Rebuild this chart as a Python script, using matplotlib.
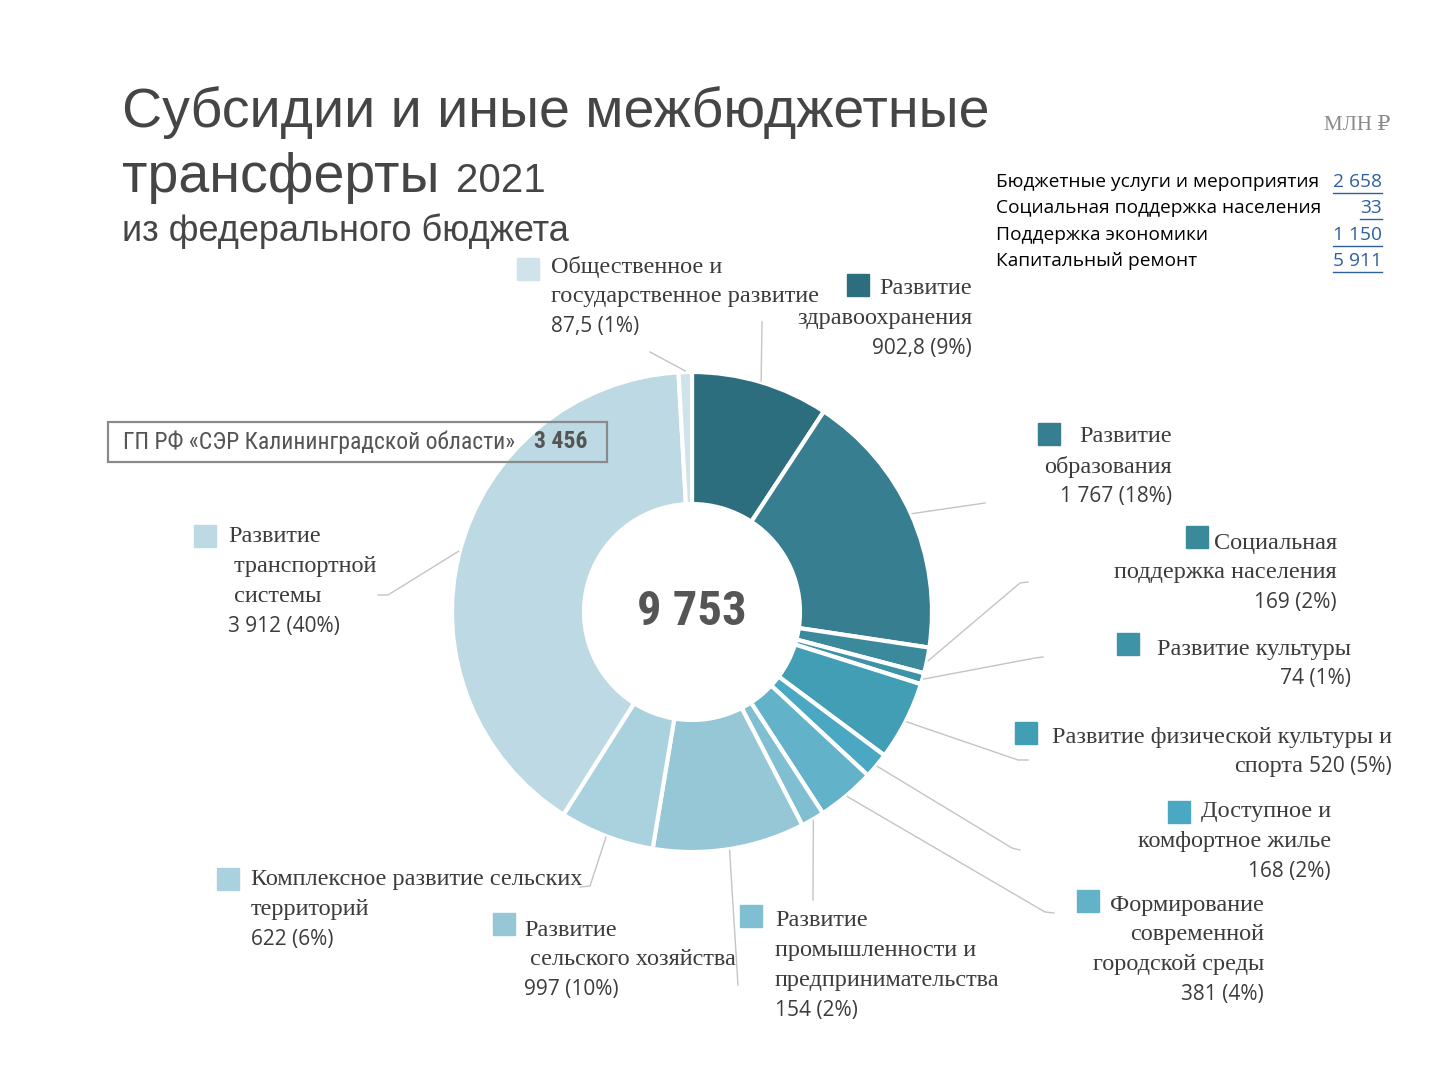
import numpy as np
import matplotlib.pyplot as plt
from matplotlib.patches import Rectangle

# --- data (млн руб.) ---
categories = [
    "Развитие\nздравоохранения",
    "Развитие\nобразования",
    "Социальная\nподдержка населения",
    "Развитие культуры",
    "Развитие физической культуры и\nспорта",
    "Доступное и\nкомфортное жилье",
    "Формирование\nсовременной\nгородской среды",
    "Развитие\nпромышленности и\nпредпринимательства",
    "Развитие\n сельского хозяйства",
    "Комплексное развитие сельских\nтерриторий",
    "Развитие\n транспортной\n системы",
    "Общественное и\nгосударственное развитие",
]
values = [902.8, 1767, 169, 74, 520, 168, 381, 154, 997, 622, 3912, 87.5]
pcts = [9, 18, 2, 1, 5, 2, 4, 2, 10, 6, 40, 1]
colors = ["#2d6e7e", "#367e90", "#3a8a9c", "#3e93a7", "#429eb5", "#4aa8c2",
          "#62b3ca", "#80bfd2", "#96c7d7", "#a9d1de", "#bdd9e3", "#cfe3ea"]
total_label = "9 753"

side_names = ["Бюджетные услуги и мероприятия", "Социальная поддержка населения",
              "Поддержка экономики", "Капитальный ремонт"]
side_values = [2658, 33, 1150, 5911]

gp_label = "ГП РФ «СЭР Калининградской области»"
gp_value = 3456


def fmt(v):
    if float(v).is_integer():
        s = f"{int(v):,}".replace(",", " ")
    else:
        s = f"{v:,.1f}".replace(",", " ").replace(".", ",")
    return s


SERIF = ["Liberation Serif", "DejaVu Serif"]
SANS = ["Open Sans", "DejaVu Sans"]
TITLE = ["Liberation Sans", "DejaVu Sans"]
COND = ["Roboto Condensed", "Roboto", "DejaVu Sans"]
TXT = "#3c3c3c"

fig = plt.figure(figsize=(14.4, 10.8), dpi=100)
ax = fig.add_axes([0, 0, 1, 1])

cx, cy, R = 692, 612, 240
wedges, _ = ax.pie(values, colors=colors, startangle=-90, counterclock=True,
                   radius=R, center=(cx, cy),
                   wedgeprops=dict(width=132, edgecolor="white", linewidth=3))
ax.set_xlim(0, 1440)
ax.set_ylim(1080, 0)
ax.axis("off")

# --- leader lines: start at mid angle of wedge, then layout points ---
leader_pts = [
    [(762, 322)],
    [(985, 503)],
    [(1020, 583), (1028, 582)],
    [(1035, 658), (1043, 657)],
    [(1018, 760), (1028, 760)],
    [(1012, 848), (1020, 850)],
    [(1045, 912), (1054, 913)],
    [(813, 900)],
    [(738, 985)],
    [(590, 886), (580, 887)],
    [(388, 595), (378, 595)],
    [(650, 352)],
]
fr = np.cumsum([0] + values) / sum(values)
for i, pts in enumerate(leader_pts):
    a = np.deg2rad((fr[i] + fr[i + 1]) / 2 * 360)
    x0, y0 = cx + R * 1.005 * np.sin(a), cy - R * 1.005 * np.cos(a)
    xs = [x0] + [p[0] for p in pts]
    ys = [y0] + [p[1] for p in pts]
    ax.plot(xs, ys, color="#c4c4c4", lw=1, zorder=1)

# --- labels: (square x, square y, text x, ha, first line y) ---
label_layout = [
    (847, 274, 972, "right", 289),
    (1038, 423, 1172, "right", 437),
    (1186, 526, 1337, "right", 543),
    (1117, 633, 1351, "right", 649),
    (1015, 722, 1392, "right", 737),
    (1168, 801, 1331, "right", 812),
    (1077, 890, 1264, "right", 905),
    (740, 905, 775, "left", 921),
    (493, 913, 524, "left", 930),
    (217, 868, 251, "left", 880),
    (194, 525, 228, "left", 537),
    (517, 258, 551, "left", 267),
]
step = 29.7
FS_NAME, FS_NUM = 17.5, 15
fig.canvas.draw()
r = fig.canvas.get_renderer()
for i, (sx, sy, tx, ha, ty) in enumerate(label_layout):
    ax.add_patch(Rectangle((sx, sy), 22, 22, color=colors[i], zorder=3))
    lines = categories[i].split("\n")
    num = f"{fmt(values[i])} ({pcts[i]}%)"
    if i == 4:
        # last name line shares the row with the number
        ax.text(tx, ty, lines[0], ha=ha, va="center", fontsize=FS_NAME,
                family=SERIF, color=TXT)
        t = ax.text(tx, ty + step, num, ha="right", va="center", fontsize=FS_NUM,
                    family=SANS, color=TXT)
        bb = t.get_window_extent(r)
        ax.text(bb.x0 - 6, ty + step, lines[1], ha="right", va="center",
                fontsize=FS_NAME, family=SERIF, color=TXT)
        continue
    for k, ln in enumerate(lines):
        ax.text(tx, ty + k * step, ln, ha=ha, va="center", fontsize=FS_NAME,
                family=SERIF, color=TXT)
    ax.text(tx, ty + len(lines) * step, num, ha=ha, va="center", fontsize=FS_NUM,
            family=SANS, color=TXT)

# --- centre total ---
ax.text(cx, cy, total_label, ha="center", va="center", fontsize=35,
        fontweight="bold", family=COND, color="#555555")

# --- title ---
ax.text(122, 127, "Субсидии и иные межбюджетные", fontsize=40, family=TITLE,
        color="#454545", va="baseline")
t = ax.text(122, 192, "трансферты", fontsize=40, family=TITLE,
            color="#454545", va="baseline")
bb = t.get_window_extent(r)
ax.text(bb.x1 + 16, 192, "2021", fontsize=29, family=TITLE,
        color="#454545", va="baseline")
ax.text(122, 241, "из федерального бюджета", fontsize=26, family=TITLE,
        color="#454545", va="baseline")
ax.text(1390, 125, "МЛН ₽", ha="right", va="center", fontsize=15,
        family=SERIF + ["DejaVu Sans"], color="#8a8a8a")

# --- side table ---
for k, (nm, v) in enumerate(zip(side_names, side_values)):
    y = 182 + k * 26.3
    ax.text(996, y, nm, ha="left", va="center", fontsize=13.8, family=SANS,
            color="black")
    t = ax.text(1382, y, fmt(v), ha="right", va="center", fontsize=13.8,
                family=SANS, color="#2e5fa0")
    bb = t.get_window_extent(r)
    ax.plot([bb.x0, bb.x1], [y + 11, y + 11], color="#2e5fa0", lw=1)

# --- GP box ---
ax.add_patch(Rectangle((108, 422), 499, 40, fill=False, edgecolor="#8a8a8a",
                       lw=1.6, zorder=4))
ax.text(123, 442, gp_label, ha="left", va="center", fontsize=17,
        family=COND, color="#555555")
ax.text(588, 442, fmt(gp_value), ha="right", va="center", fontsize=17,
        fontweight="bold", family=COND, color="#555555")

fig.savefig("out.png", dpi=100, facecolor="white")
